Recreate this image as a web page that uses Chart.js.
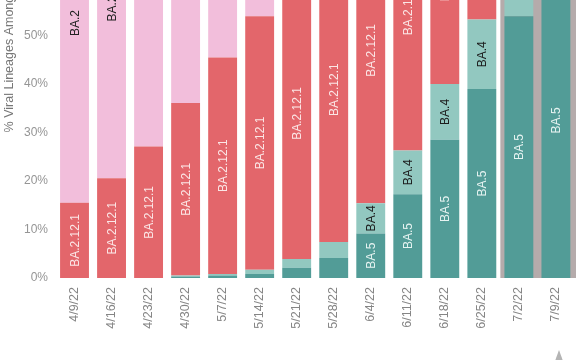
<!DOCTYPE html>
<html>
<head>
<meta charset="utf-8">
<script src="https://cdn.jsdelivr.net/npm/chart.js@4/dist/chart.umd.min.js"></script>
<style>
  html, body { margin: 0; padding: 0; background: #fff; overflow: hidden; }
  #wrap { position: relative; width: 576px; height: 360px; overflow: hidden; }
  #box { position: absolute; left: 0; top: -222px; }
  #tri { position: absolute; left: 555px; top: 350px; width: 0; height: 0;
         border-left: 4px solid transparent; border-right: 4px solid transparent;
         border-bottom: 11px solid #b4b4b4; }
</style>
</head>
<body>
<div id="wrap">
  <div id="box"><canvas id="lineageChart" width="580" height="582"></canvas></div>
  <div id="tri"></div>
</div>
<script>
// weeks (x categories)
const weeks = ['4/9/22', '4/16/22', '4/23/22', '4/30/22', '5/7/22', '5/14/22', '5/21/22',
               '5/28/22', '6/4/22', '6/11/22', '6/18/22', '6/25/22', '7/2/22', '7/9/22'];

// % share per lineage (stacked bottom -> top)
const ba5    = [0, 0, 0, 0.3, 0.5, 0.8, 2.1, 4.1, 9.2, 17.3, 28.5, 39.0, 54.0, 65.0];
const ba4    = [0, 0, 0, 0.2, 0.3, 0.9, 1.8, 3.3, 6.2, 9.0, 11.5, 14.3, 16.0, 16.0];
const ba2121 = [15.5, 20.6, 27.1, 35.6, 44.7, 52.3, 60.1, 62.9, 63.1, 58.4, 45.0, 35.0, 20.0, 12.0];
const ba2    = [74.2, 70.0, 68.9, 60.5, 51.5, 44.0, 34.0, 27.0, 19.0, 13.0, 13.0, 10.0, 8.0, 5.0];
const other  = weeks.map((w, i) => +(100 - ba5[i] - ba4[i] - ba2121[i] - ba2[i]).toFixed(1));

// y ticks
const yTicks = [0, 10, 20, 30, 40, 50, 60, 70, 80, 90, 100];

// weeks that are still nowcast (grey band behind)
const nowcastFrom = 12;

const FONT = 'Arial, "Liberation Sans", Helvetica, sans-serif';

// ==================== grey nowcast band ====================
const nowcastBand = {
    id: 'nowcastBand',
    beforeDatasetsDraw(chart) {
        const { ctx, chartArea, scales } = chart;
        const x = scales.x;
        const left = (x.getPixelForValue(nowcastFrom - 1) + x.getPixelForValue(nowcastFrom)) / 2;
        ctx.save();
        ctx.fillStyle = '#b5abab';
        ctx.fillRect(left, chartArea.top, chart.width - left, chartArea.bottom - chartArea.top);
        ctx.restore();
    }
};

// ==================== in-bar lineage labels ====================
const segLabels = {
    id: 'segLabels',
    afterDatasetsDraw(chart) {
        const { ctx } = chart;
        chart.data.datasets.forEach((ds, di) => {
            if (!ds.labelColor) return;
            const meta = chart.getDatasetMeta(di);
            meta.data.forEach((el, i) => {
                if (ds.data[i] < 5) return;
                const p = el.getProps(['x', 'y', 'base'], true);
                ctx.save();
                ctx.translate(p.x, (p.y + p.base) / 2);
                ctx.rotate(-Math.PI / 2);
                ctx.font = '12px ' + FONT;
                ctx.fillStyle = ds.labelColor;
                ctx.textAlign = 'center';
                ctx.textBaseline = 'middle';
                ctx.fillText(ds.label, 0, 1);
                ctx.restore();
            });
        });
    }
};

const ctx = document.getElementById('lineageChart').getContext('2d');
new Chart(ctx, {
    type: 'bar',
    data: {
        labels: weeks,
        datasets: [
            { label: 'BA.5', data: ba5, backgroundColor: '#529c97', labelColor: '#e6f3f1' },
            { label: 'BA.4', data: ba4, backgroundColor: '#92c8c0', labelColor: '#1c1c1c' },
            { label: 'BA.2.12.1', data: ba2121, backgroundColor: '#e3666b', labelColor: '#fbe6e6' },
            { label: 'BA.2', data: ba2, backgroundColor: '#f2bedb', labelColor: '#222222' },
            { label: 'Other', data: other, backgroundColor: '#d9d4d4' }
        ].map(d => Object.assign(d, { barPercentage: 0.78, categoryPercentage: 1, borderWidth: 0 }))
    },
    options: {
        responsive: false,
        animation: false,
        layout: { padding: { top: 10, right: 3, bottom: 0, left: 0 } },
        plugins: {
            legend: { display: false },
            tooltip: { enabled: false }
        },
        scales: {
            x: {
                stacked: true,
                grid: { display: false, drawTicks: false },
                border: { display: false },
                ticks: {
                    minRotation: 90,
                    maxRotation: 90,
                    padding: 9,
                    color: '#858585',
                    font: { size: 12.5, family: FONT }
                },
                afterFit(s) { s.height = 82; }
            },
            y: {
                stacked: true,
                min: 0,
                max: 100,
                grid: { display: false, drawTicks: false },
                border: { display: false },
                afterBuildTicks(s) { s.ticks = yTicks.map(v => ({ value: v })); },
                ticks: {
                    padding: 8,
                    color: '#959595',
                    font: { size: 12, family: FONT },
                    callback: v => v + '%'
                },
                title: {
                    display: true,
                    text: '% Viral Lineages Among Infections',
                    color: '#777777',
                    padding: { top: 2, bottom: 0 },
                    font: { size: 12.5, family: FONT }
                },
                afterFit(s) { s.width = 56; }
            }
        }
    },
    plugins: [nowcastBand, segLabels]
});
</script>
</body>
</html>
